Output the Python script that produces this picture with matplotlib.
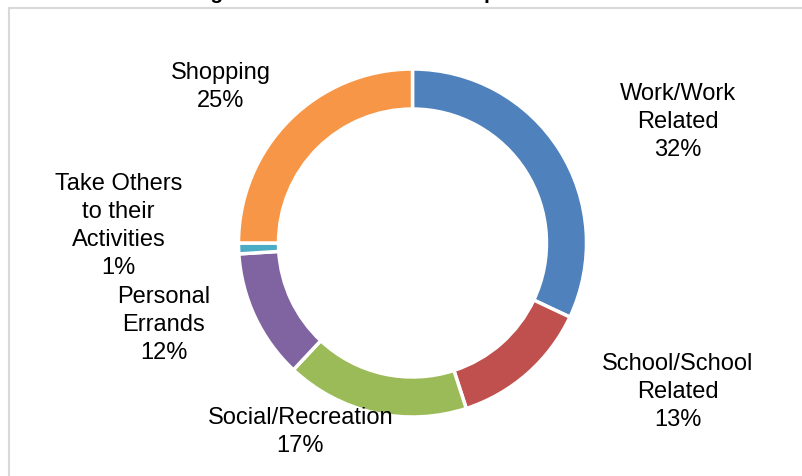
import matplotlib
matplotlib.use("Agg")
import matplotlib.pyplot as plt
from matplotlib.patches import Rectangle

# Trip purpose shares (%)
purposes = ["Work/Work\nRelated", "School/School\nRelated", "Social/Recreation",
            "Personal\nErrands", "Take Others\nto their\nActivities", "Shopping"]
shares = [32, 13, 17, 12, 1, 25]
colors = ["#4F81BD", "#C0504D", "#9BBB59", "#8064A2", "#4BACC6", "#F79646"]

# label anchor points in axes data units (pie radius = 1)
label_xy = [(1.523, 0.701), (1.523, -0.851), (-0.644, -1.080),
            (-1.431, -0.466), (-1.690, 0.103), (-1.103, 0.902)]

W, H = 802, 477
fig = plt.figure(figsize=(W / 100, H / 100), dpi=100)
fig.patch.set_facecolor("white")

# chart area frame
fig.add_artist(Rectangle((9 / W, -0.1), 1.2, 1.1 - 9 / H, transform=fig.transFigure,
                         fill=False, edgecolor="#D9D9D9", linewidth=1.5))

# title (sits mostly above the visible canvas)
fig.text(122 / W, 1 + 1 / H, "Percentage of Household Vehicle Trips",
         ha="left", va="baseline", fontsize=15, fontweight="bold",
         family="Liberation Sans", color="black")

cx, cy, R = 412.5, H - 244, 174
ax = fig.add_axes([(cx - R) / W, (cy - R) / H, 2 * R / W, 2 * R / H])
ax.pie(shares, colors=colors, startangle=90, counterclock=False, radius=1,
       wedgeprops=dict(width=0.23, edgecolor="white", linewidth=2.5))
ax.set_xlim(-1, 1)
ax.set_ylim(-1, 1)
ax.set_aspect("equal")
ax.axis("off")

for name, val, (x, y) in zip(purposes, shares, label_xy):
    ax.text(x, y, f"{name}\n{val}%", ha="center", va="center", fontsize=17,
            family="Liberation Sans", color="black", linespacing=1.36, clip_on=False)

fig.savefig("out.png", dpi=100)
